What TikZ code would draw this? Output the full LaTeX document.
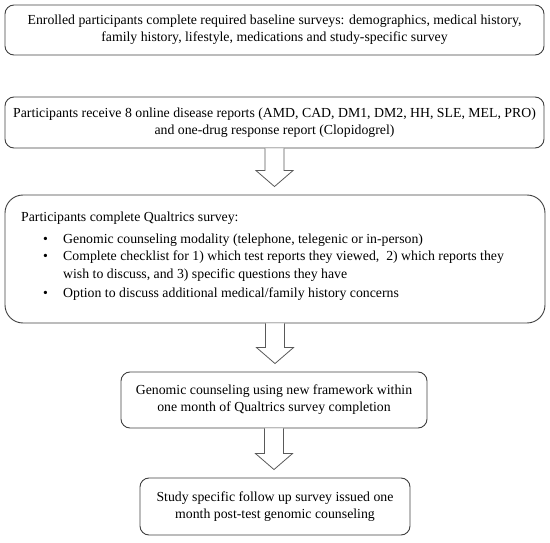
\documentclass[tikz,border=0pt]{standalone}
\usepackage{fontspec}
\setmainfont{Liberation Serif}
\usetikzlibrary{calc}
\tikzstyle{stepbox}=[draw=black!75, line width=0.9pt, rounded corners=9pt, align=center, inner sep=0pt]
\tikzstyle{blockarrow}=[draw=black!65, line width=0.8pt, fill=white]
\newcommand{\stepbox}{\node[stepbox]}
\newcommand{\bulletitem}{\hspace*{22pt}\makebox[20pt][l]{\textbullet}}
\newcommand{\hollowarrow}[2]{%
  \draw[blockarrow] let \p1 = (#1.south), \p2 = (#2.north) in
    (\x1-9.5pt,\y1) -- (\x1-9.5pt,\y2+24pt) -- (\x1-18.5pt,\y2+24pt) -- (\x1,\y2+8pt)
    -- (\x1+18.5pt,\y2+24pt) -- (\x1+9.5pt,\y2+24pt) -- (\x1+9.5pt,\y1);}

\begin{document}
\begin{tikzpicture}[x=1pt, y=-1pt, font=\fontsize{13.8}{17}\selectfont]
\useasboundingbox (0,0) rectangle (550,543);

    \stepbox[minimum width=539pt, minimum height=50pt] (enrol) at (274.5,30)
        {Enrolled participants complete required baseline surveys: demographics, medical history,\\
         family history, lifestyle, medications and study-specific survey};
    \stepbox[minimum width=539pt, minimum height=51pt] (reports) at (274.5,122.5)
        {Participants receive 8 online disease reports (AMD, CAD, DM1, DM2, HH, SLE, MEL, PRO)\\
         and one-drug response report (Clopidogrel)};
    \stepbox[minimum width=540pt, minimum height=128pt, rounded corners=18pt] (survey) at (275,259) {};
    \node[anchor=base west, align=left, inner sep=0pt, font=\fontsize{13.8}{18}\selectfont] (surveytext) at (21,297)
        {Participants complete Qualtrics survey:\\[4pt]
         \bulletitem Genomic counseling modality (telephone, telegenic or in-person)\\
         \bulletitem Complete checklist for 1) which test reports they viewed,\ \ 2) which reports they\\
         \hspace*{42pt}wish to discuss, and 3) specific questions they have\\
         \bulletitem Option to discuss additional medical/family history concerns};
    \stepbox[minimum width=306pt, minimum height=56pt] (counsel) at (274,400)
        {Genomic counseling using new framework within\\
         one month of Qualtrics survey completion};
    \stepbox[minimum width=270pt, minimum height=57pt] (followup) at (275,506.5)
        {Study specific follow up survey issued one\\
         month post-test genomic counseling};

    \hollowarrow{reports}{survey}
    \hollowarrow{survey}{counsel}
    \hollowarrow{counsel}{followup}
\end{tikzpicture}
\end{document}
